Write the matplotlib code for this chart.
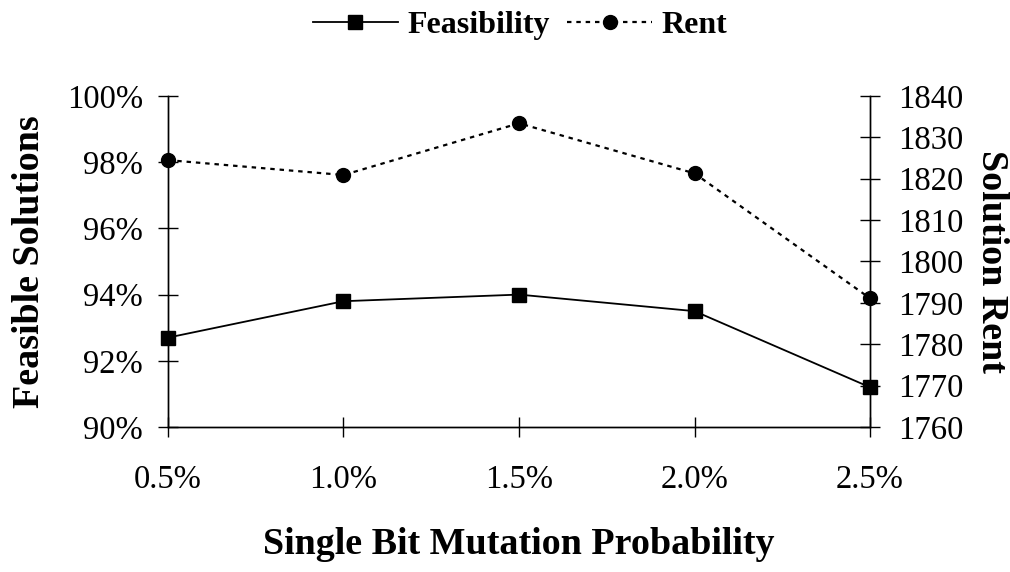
import matplotlib
matplotlib.use("Agg")
import matplotlib.pyplot as plt
from matplotlib.ticker import FuncFormatter

plt.rcParams['font.family'] = ['Liberation Serif', 'DejaVu Serif']

# Data
mutation_prob = ["0.5%", "1.0%", "1.5%", "2.0%", "2.5%"]
feasibility = [92.7, 93.8, 94.0, 93.5, 91.2]      # percent of feasible solutions
rent = [1824.5, 1820.9, 1833.4, 1821.3, 1791.1]    # solution rent

fig = plt.figure(figsize=(10.10, 5.72), dpi=100)
ax = fig.add_axes([0.1663, 0.2535, 0.6951, 0.5787])
ax2 = ax.twinx()

x = list(range(len(mutation_prob)))
l1, = ax.plot(x, feasibility, color='black', lw=1.3, marker='s', ms=10,
              label='Feasibility', clip_on=False, zorder=3)
l2, = ax2.plot(x, rent, color='black', lw=1.6, ls=(0, (2, 2.2)), marker='o', ms=10,
               label='Rent', clip_on=False, zorder=3)

ax.set_xlim(0, 4)
ax.set_ylim(90, 100)
ax2.set_ylim(1760, 1840)
ax.set_yticks(range(90, 101, 2))
ax2.set_yticks(range(1760, 1841, 10))
ax.yaxis.set_major_formatter(FuncFormatter(lambda v, p: f"{v:.0f}%"))
ax.set_xticks(x)
ax.set_xticklabels(mutation_prob)

tick_fs = 23.5
label_fs = 27.4
for a in (ax, ax2):
    a.spines['top'].set_visible(False)
    for s in a.spines.values():
        s.set_linewidth(1.0)
    a.tick_params(axis='both', direction='inout', length=14, width=1.0,
                  labelsize=tick_fs, colors='black')
ax.tick_params(axis='x', pad=20)
ax.tick_params(axis='y', pad=11)
ax2.tick_params(axis='y', pad=13)

ax.set_xlabel("Single Bit Mutation Probability", fontsize=label_fs, fontweight='bold',
              labelpad=23)
ax.set_ylabel("Feasible Solutions", fontsize=label_fs, fontweight='bold', labelpad=14)
ax2.set_ylabel("Solution Rent", fontsize=label_fs, fontweight='bold', rotation=-90,
               labelpad=33)

fig.legend(handles=[l1, l2], loc='upper center', bbox_to_anchor=(0.515, 1.031),
           ncol=2, frameon=False, prop={'size': 23, 'weight': 'bold'},
           handlelength=2.65, handletextpad=0.3, columnspacing=0.55)

fig.savefig("out.png", dpi=100)
